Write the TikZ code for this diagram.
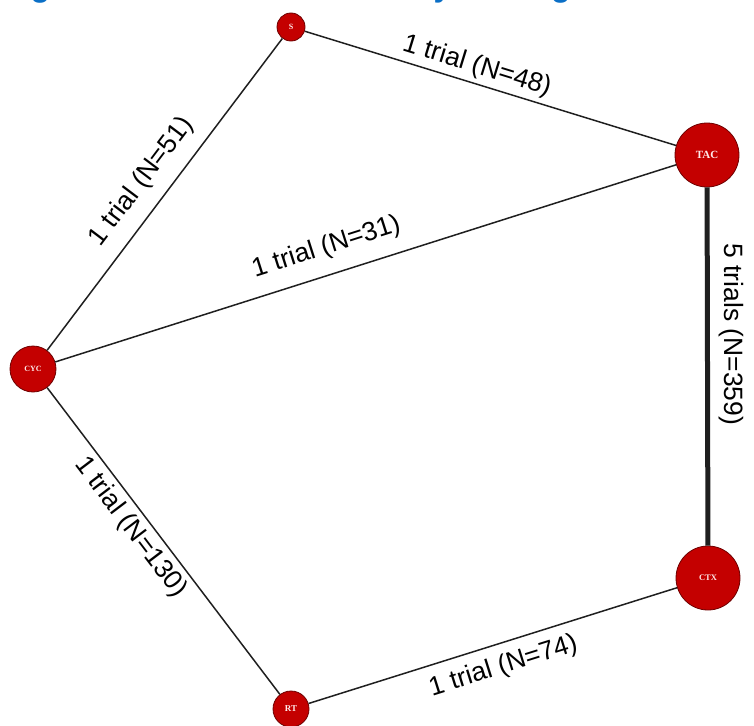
\documentclass[tikz,border=0pt]{standalone}
\usepackage{fontspec}
\setmainfont{Liberation Sans}
\newfontfamily\nodefont{Liberation Serif}
\definecolor{titleblue}{HTML}{0B6FC6}
\definecolor{nodered}{HTML}{C40000}
\definecolor{noderim}{HTML}{6E0000}
\begin{document}
\begin{tikzpicture}[x=1pt,y=-1pt,
  trt/.style={circle,draw=noderim,line width=0.8pt,fill=nodered,text=white!92!red,
    inner sep=0pt,font=\nodefont\bfseries\fontsize{8}{8}\selectfont},
  link/.style={draw=black!88,line width=1.5pt},
  lbl/.style={sloped,font=\fontsize{26.5}{30}\selectfont,inner xsep=2pt,inner ysep=4pt}]
\clip (0,0) rectangle (754,725);
\useasboundingbox (0,0) rectangle (754,725);

% caption, cut off by the top edge
\node[anchor=base west,inner sep=0pt,text=titleblue,
  font=\bfseries\fontsize{32}{36}\selectfont] (title) at (2,-3)
  {Figure 3: Network meta-analysis diagram for OS};

% treatments
\node[trt,minimum size=28pt] (S) at (291,27) {S};
\node[trt,minimum size=64pt,font=\nodefont\bfseries\fontsize{11}{11}\selectfont] (TAC) at (707,155) {TAC};
\node[trt,minimum size=46pt] (CYC) at (33,369) {CYC};
\node[trt,minimum size=64pt,font=\nodefont\bfseries\fontsize{8.5}{8.5}\selectfont] (CTX) at (708,578) {CTX};
\node[trt,minimum size=36pt,font=\nodefont\bfseries\fontsize{9}{9}\selectfont] (RT) at (291,709) {RT};

% comparisons
\draw[link] (S) -- node[lbl,above,pos=0.45] {1 trial (N=48)} (TAC);
\draw[link] (CYC) -- node[lbl,above,pos=0.49,inner ysep=13pt] {1 trial (N=51)} (S);
\draw[link] (CYC) -- node[lbl,above,pos=0.45,inner ysep=14pt] {1 trial (N=31)} (TAC);
\draw[link,line width=5pt] (TAC) -- node[lbl,above,pos=0.41,inner ysep=9pt] {5 trials (N=359)} (CTX);
\draw[link] (CYC) -- node[lbl,below,pos=0.42,inner ysep=5pt] {1 trial (N=130)} (RT);
\draw[link] (RT) -- node[lbl,below,pos=0.51,inner ysep=10pt] {1 trial (N=74)} (CTX);
\end{tikzpicture}
\end{document}
